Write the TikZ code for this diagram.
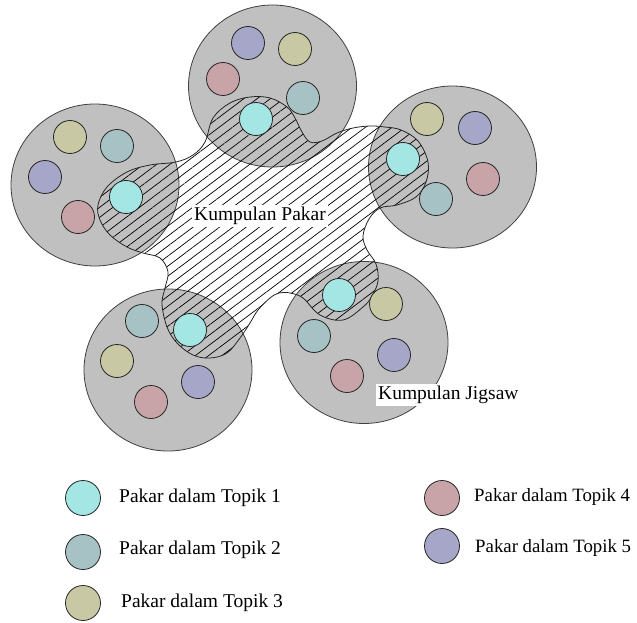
\documentclass[tikz,border=0pt]{standalone}
\usepackage{fontspec}
\setmainfont{Liberation Serif}
\usetikzlibrary{patterns.meta,shapes.geometric}
\definecolor{bigfill}{RGB}{192,192,192}
\definecolor{cA}{RGB}{164,230,228}
\definecolor{cB}{RGB}{166,194,196}
\definecolor{cC}{RGB}{200,200,164}
\definecolor{cD}{RGB}{200,164,168}
\definecolor{cE}{RGB}{166,166,200}
\begin{document}
\begin{tikzpicture}[x=1pt,y=-1pt,
  group/.style={ellipse,draw=black!75,fill=bigfill,line width=0.8pt,minimum width=168pt,minimum height=162pt,inner sep=0pt},
  expert/.style={circle,draw=black!85,line width=0.8pt,minimum size=33pt,inner sep=0pt},
  legexp/.style={circle,draw=black!85,line width=0.8pt,minimum size=35pt,inner sep=0pt},
  hatch/.style={pattern={Lines[angle=37,distance=8pt,line width=0.7pt]},draw=black!85,line width=0.8pt},
  lbl/.style={font=\fontsize{19.5}{22}\selectfont,inner sep=0pt,anchor=west},
  lblr/.style={font=\fontsize{18.8}{22}\selectfont,inner sep=0pt,anchor=west},
  boxlbl/.style={font=\fontsize{19.5}{22}\selectfont,fill=white,inner sep=2pt}
]
\useasboundingbox (0,0) rectangle (637,623);
\fill[white] (0,0) rectangle (637,623);

% jigsaw groups
\node[group] (gT) at (272.5,86) {};
\node[group] (gL) at (95,185) {};
\node[group] (gR) at (452.5,167) {};
\node[group] (gBL) at (168,370) {};
\node[group] (gBR) at (364,342.5) {};

% expert group (hatched)
\draw[hatch] plot[smooth cycle,tension=0.6] coordinates {
(98,205) (107,187) (127,172) (150,165) (176,162) (193,155) (205,142) (213,118)
(230,103) (250,97) (270,98) (287,107) (295,118) (302,132) (310,142) (322,141)
(337,133) (353,128) (370,126) (385,127) (401,130) (418,141) (428,162) (426,182)
(416,197) (397,205) (380,208) (369,219) (363,236) (367,250) (376,264) (378,281)
(372,296) (363,307) (343,320) (320,315) (303,298) (290,293) (279,293) (270,298)
(258,310) (250,323) (240,338) (227,353) (210,358) (193,355) (177,343) (167,327)
(162,304) (165,288) (168,272) (160,258) (143,253) (127,247) (110,235) (100,220)};

% top group
\node[expert,fill=cE] (t5) at (248,43) {};
\node[expert,fill=cC] (t3) at (295,49) {};
\node[expert,fill=cD] (t4) at (223,79) {};
\node[expert,fill=cB] (t2) at (303,98) {};
\node[expert,fill=cA] (t1) at (256,119) {};
% left group
\node[expert,fill=cC] (l3) at (70,137) {};
\node[expert,fill=cB] (l2) at (117,146) {};
\node[expert,fill=cE] (l5) at (45,177) {};
\node[expert,fill=cD] (l4) at (78,217) {};
\node[expert,fill=cA] (l1) at (126,197) {};
% right group
\node[expert,fill=cC] (r3) at (427,119) {};
\node[expert,fill=cE] (r5) at (475,128) {};
\node[expert,fill=cA] (r1) at (403,159) {};
\node[expert,fill=cD] (r4) at (483,179) {};
\node[expert,fill=cB] (r2) at (436,199) {};
% bottom-left group
\node[expert,fill=cB] (bl2) at (142,321) {};
\node[expert,fill=cA] (bl1) at (190,330) {};
\node[expert,fill=cC] (bl3) at (117,361) {};
\node[expert,fill=cE] (bl5) at (198,382) {};
\node[expert,fill=cD] (bl4) at (151,402) {};
% bottom-right group
\node[expert,fill=cA] (br1) at (339,295) {};
\node[expert,fill=cC] (br3) at (386,304) {};
\node[expert,fill=cB] (br2) at (314,336) {};
\node[expert,fill=cE] (br5) at (394,355) {};
\node[expert,fill=cD] (br4) at (347,376) {};

% labels
\node[boxlbl] (kp) at (260,216) {Kumpulan Pakar};
\node[boxlbl,anchor=west] (kj) at (376,395) {Kumpulan Jigsaw};

% legend
\node[legexp,fill=cA] (k1) at (83,498) {};
\node[lbl] (k1t) at (119,498) {Pakar dalam Topik 1};
\node[legexp,fill=cB] (k2) at (83,552) {};
\node[lbl] (k2t) at (119,550) {Pakar dalam Topik 2};
\node[legexp,fill=cC] (k3) at (83,603) {};
\node[lbl] (k3t) at (121,603) {Pakar dalam Topik 3};
\node[legexp,fill=cD] (k4) at (442,498) {};
\node[lblr] (k4t) at (474,497) {Pakar dalam Topik 4};
\node[legexp,fill=cE] (k5) at (442,546) {};
\node[lblr] (k5t) at (475,548) {Pakar dalam Topik 5};
\end{tikzpicture}
\end{document}
